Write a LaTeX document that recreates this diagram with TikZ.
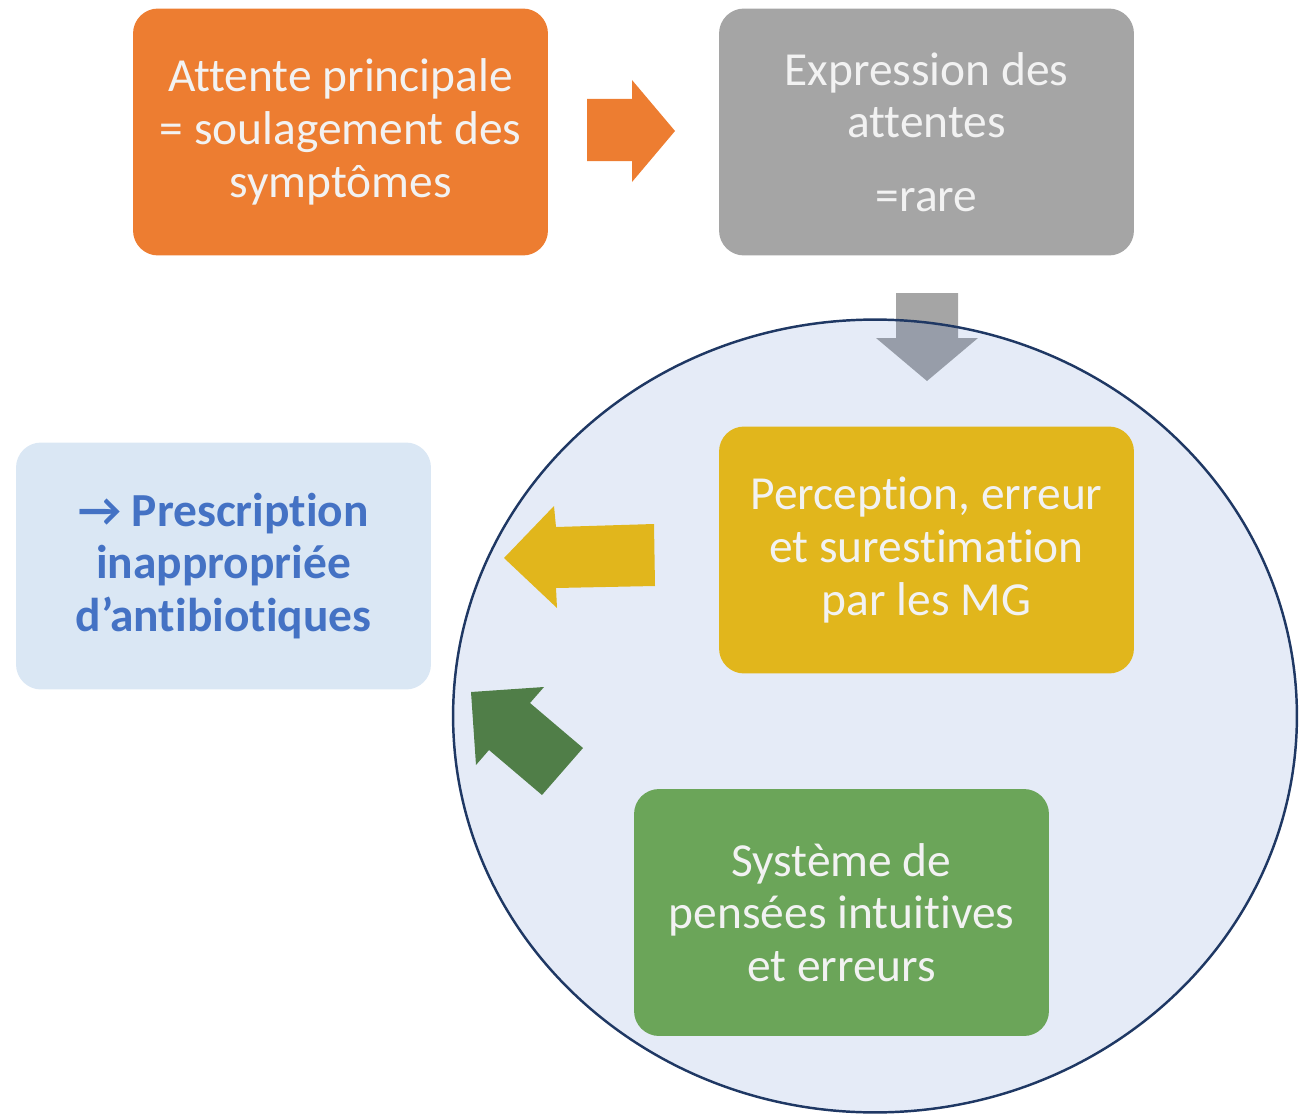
\documentclass[tikz,border=0pt]{standalone}
\usepackage{fontspec}
\setmainfont{Carlito}[Ligatures={NoCommon,NoContextual}]
\definecolor{orangeC}{HTML}{ED7D31}
\definecolor{grayC}{HTML}{A5A5A5}
\definecolor{goldC}{HTML}{E1B61C}
\definecolor{greenC}{HTML}{6BA559}
\definecolor{dkgreenC}{HTML}{507E48}
\definecolor{ltblueC}{HTML}{DAE7F4}
\definecolor{blueC}{HTML}{4472C4}
\definecolor{navyC}{HTML}{1F3864}
\definecolor{txtC}{HTML}{F2F2F2}
\tikzset{
  box/.style={rectangle, rounded corners=0.5cm, minimum width=8.3cm, minimum height=4.94cm,
    align=center, inner sep=0pt, font=\fontsize{27}{30}\selectfont, text=txtC},
}
\begin{document}
\begin{tikzpicture}[x=0.02cm, y=-0.02cm]
\useasboundingbox (0,0) rectangle (1312,1115);
% gray down arrow (behind the ellipse)
\fill[grayC] (896,293) -- (958,293) -- (958,338) -- (978,338) -- (927,381) -- (876,338) -- (896,338) -- cycle;
% ellipse
\fill[blueC, fill opacity=0.14] (875,716) ellipse [x radius=8.44cm, y radius=7.93cm];
\draw[navyC, line width=1.4pt] (875,716) ellipse [x radius=8.44cm, y radius=7.93cm];
% boxes
\node[box, fill=orangeC] (attente) at (340.5,132) {Attente principale\\= soulagement des\\symptômes};
\node[box, fill=grayC] (expr) at (926.5,132) {Expression des\\attentes\\[12pt]=rare};
\node[box, fill=goldC] (percep) at (926.5,550) {Perception, erreur\\et surestimation\\par les MG};
\node[box, fill=greenC] (systeme) at (841.5,912.5) {Système de\\pensées intuitives\\et erreurs};
\node[box, fill=ltblueC, text=blueC, font=\fontsize{27}{30}\selectfont\bfseries] (presc) at (223.5,566) {→ Prescription\\inappropriée\\d’antibiotiques};
% orange right arrow
\fill[orangeC] (587,99) -- (632,99) -- (632,80) -- (675,131) -- (632,182) -- (632,161) -- (587,161) -- cycle;
% gold left arrow
\fill[goldC] (654,524) -- (556,527) -- (554,506) -- (504,558) -- (557,608) -- (556,588) -- (655,586) -- cycle;
% green up-left arrow
\fill[dkgreenC] (471,692) -- (544,687) -- (530,703) -- (583,748) -- (542,795) -- (489,750) -- (476,765) -- cycle;
\end{tikzpicture}
\end{document}
